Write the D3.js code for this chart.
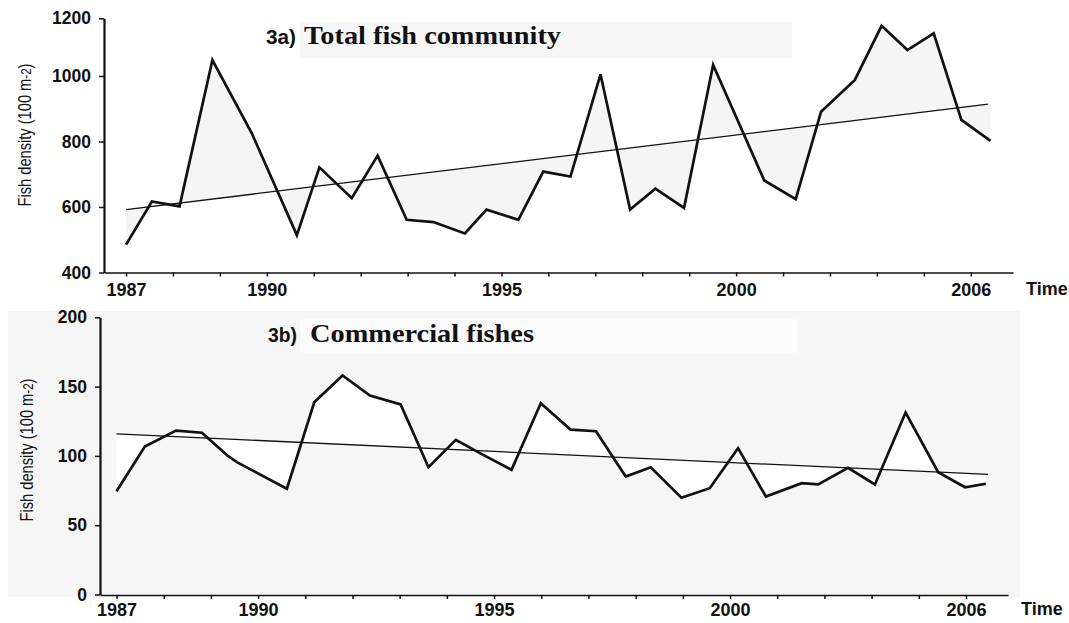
<!DOCTYPE html>
<html><head><meta charset="utf-8">
<script src="https://cdn.jsdelivr.net/npm/d3@7"></script>
<style>body{margin:0;background:#fff}svg{display:block}</style>
</head><body>
<svg id="c" width="1069" height="623"></svg>
<script>
// time positions are in years after the first (1987) tick
const xTickLabels = ["1987","","","1990","","","","","1995","","","","","2000","","","","","2006"];

const topTimes  = [0,0.55,1.14,1.84,2.68,3.64,4.12,4.81,5.36,5.98,6.55,7.22,7.68,8.36,8.89,9.47,10.11,10.74,11.28,11.89,12.51,13.60,14.27,14.81,15.53,16.10,16.65,17.21,17.80,18.42];
const topValues = [485,617,602,1055,825,514,721,627,757,561,554,519,592,561,708,693,1006,592,656,597,1038,681,624,891,988,1174,1090,1148,866,802];
const topTrendTimes  = [0, 18.37];
const topTrendValues = [592, 914];
const topYTicks = [400,600,800,1000,1200];

const botTimes  = [0,0.60,1.26,1.81,2.35,2.55,3.61,4.19,4.79,5.37,6.02,6.61,7.19,7.70,8.37,8.99,9.62,10.16,10.79,11.32,11.97,12.57,13.17,13.76,14.52,14.87,15.50,16.07,16.72,17.41,17.98,18.42];
const botValues = [74.5,106.8,118.3,116.7,100.3,95.5,76.3,138.7,158,143.6,137.1,91.8,111.6,102,90,138,119,117.8,85.1,91.8,69.8,76.7,105.6,70.7,80.3,79.4,91.4,79.4,131.3,88.2,77.4,79.9];
const botTrendTimes  = [0, 18.47];
const botTrendValues = [115.9, 86.6];
const botYTicks = [0,50,100,150,200];

const svg = d3.select("#c");
const SANS = "'Liberation Sans', Arial, sans-serif";
const SERIF = "'Liberation Serif', 'Times New Roman', serif";

// backgrounds
svg.append("rect").attr("x",0).attr("y",0).attr("width",1069).attr("height",623).attr("fill","#ffffff");
svg.append("rect").attr("x",300).attr("y",22).attr("width",492).attr("height",36).attr("fill","#f7f7f7");
svg.append("rect").attr("x",8).attr("y",311).attr("width",1012).attr("height",286).attr("fill","#f6f6f6");
svg.append("rect").attr("x",300).attr("y",319).attr("width",498).attr("height",34).attr("fill","#fafafa");

function panel(o){
  const g = svg.append("g");
  const x = d3.scaleLinear().domain(o.xDomain).range(o.xRange);
  const y = d3.scaleLinear().domain(o.yDomain).range(o.yRange);
  const trend = d3.scaleLinear().domain(o.trendT).range(o.trendV);
  const pts = o.times.map((t,i)=>({t:t, v:o.values[i]}));

  g.append("path").datum(pts)
    .attr("d", d3.area().x(d=>x(d.t)).y0(d=>y(trend(d.t))).y1(d=>y(d.v)))
    .attr("fill", o.fill);

  // trend line
  g.append("path").datum(o.trendT)
    .attr("d", d3.line().x(t=>x(t)).y(t=>y(trend(t))))
    .attr("fill","none").attr("stroke","#111").attr("stroke-width",1.3);

  // series
  g.append("path").datum(pts)
    .attr("d", d3.line().x(d=>x(d.t)).y(d=>y(d.v)))
    .attr("fill","none").attr("stroke","#111").attr("stroke-width",2.7)
    .attr("stroke-linejoin","miter");

  // x axis
  const xa = d3.axisBottom(x).tickValues(d3.range(xTickLabels.length))
    .tickSize(4).tickSizeOuter(0).tickFormat(i=>xTickLabels[i]);
  const gx = g.append("g").attr("transform",`translate(0,${o.xAxisY})`).call(xa);
  gx.select(".domain").attr("stroke","#111").attr("stroke-width",1.6);
  gx.selectAll(".tick line").attr("stroke","#111").attr("stroke-width",1.5);
  gx.selectAll(".tick text").attr("y",o.xLabelOff).attr("dy","0.71em")
    .attr("font-family",SANS).attr("font-weight","bold").attr("font-size",18).attr("fill","#111");

  // y axis
  const ya = d3.axisLeft(y).tickValues(o.yTicks).tickFormat(d3.format("d"))
    .tickSize(5).tickSizeOuter(0).tickPadding(8);
  const gy = g.append("g").attr("transform",`translate(${o.yAxisX},0)`).call(ya);
  gy.select(".domain").attr("stroke","#111").attr("stroke-width",2.2);
  gy.selectAll(".tick line").attr("stroke","#111").attr("stroke-width",1.5);
  gy.selectAll(".tick text").attr("font-family",SANS).attr("font-weight","bold")
    .attr("font-size",17.5).attr("fill","#111");

  // Time label
  g.append("text").attr("x",o.timeX).attr("y",o.timeY).text("Time")
    .attr("font-family",SANS).attr("font-weight","bold").attr("font-size",18).attr("fill","#111");

  // y label
  const yl = g.append("text")
    .attr("transform",`translate(${o.ylX},${o.ylY}) rotate(-90)`)
    .attr("text-anchor","middle").attr("dy","0.35em")
    .attr("font-family",SANS).attr("font-size",19).attr("fill","#111")
    .attr("textLength",o.ylLen).attr("lengthAdjust","spacingAndGlyphs");
  yl.append("tspan").text("Fish density (100 m");
  yl.append("tspan").attr("font-size",15).text("-2");
  yl.append("tspan").text(")");

  // title
  g.append("text").attr("x",o.t1X).attr("y",o.titleY).text(o.t1)
    .attr("font-family",SANS).attr("font-weight","bold").attr("font-size",20).attr("fill","#111")
    .attr("textLength",o.t1Len).attr("lengthAdjust","spacingAndGlyphs");
  g.append("text").attr("x",o.t2X).attr("y",o.titleY).text(o.t2)
    .attr("font-family",SERIF).attr("font-weight","bold").attr("font-size",25).attr("fill","#111")
    .attr("textLength",o.t2Len).attr("lengthAdjust","spacingAndGlyphs");
}

panel({
  times: topTimes, values: topValues, trendT: topTrendTimes, trendV: topTrendValues,
  xDomain: [-0.47, 18.9], xRange: [104, 1013],
  yDomain: [400, 1000, 1200], yRange: [272.5, 76, 18.3], yTicks: topYTicks,
  xAxisY: 272.5, yAxisX: 104, xLabelOff: 11, fill: "#f5f5f5",
  timeX: 1026, timeY: 295, ylX: 24, ylY: 135, ylLen: 143,
  titleY: 44, t1: "3a)", t1X: 266, t1Len: 30, t2: "Total fish community", t2X: 304, t2Len: 257
});

panel({
  times: botTimes, values: botValues, trendT: botTrendTimes, trendV: botTrendValues,
  xDomain: [-0.35, 18.89], xRange: [100, 1008],
  yDomain: [0, 200], yRange: [594.5, 317.3], yTicks: botYTicks,
  xAxisY: 595, yAxisX: 100, xLabelOff: 8, fill: "#ffffff",
  timeX: 1021, timeY: 615, ylX: 26, ylY: 450, ylLen: 143,
  titleY: 342, t1: "3b)", t1X: 268, t1Len: 29, t2: "Commercial fishes", t2X: 310, t2Len: 224
});
</script>
</body></html>
